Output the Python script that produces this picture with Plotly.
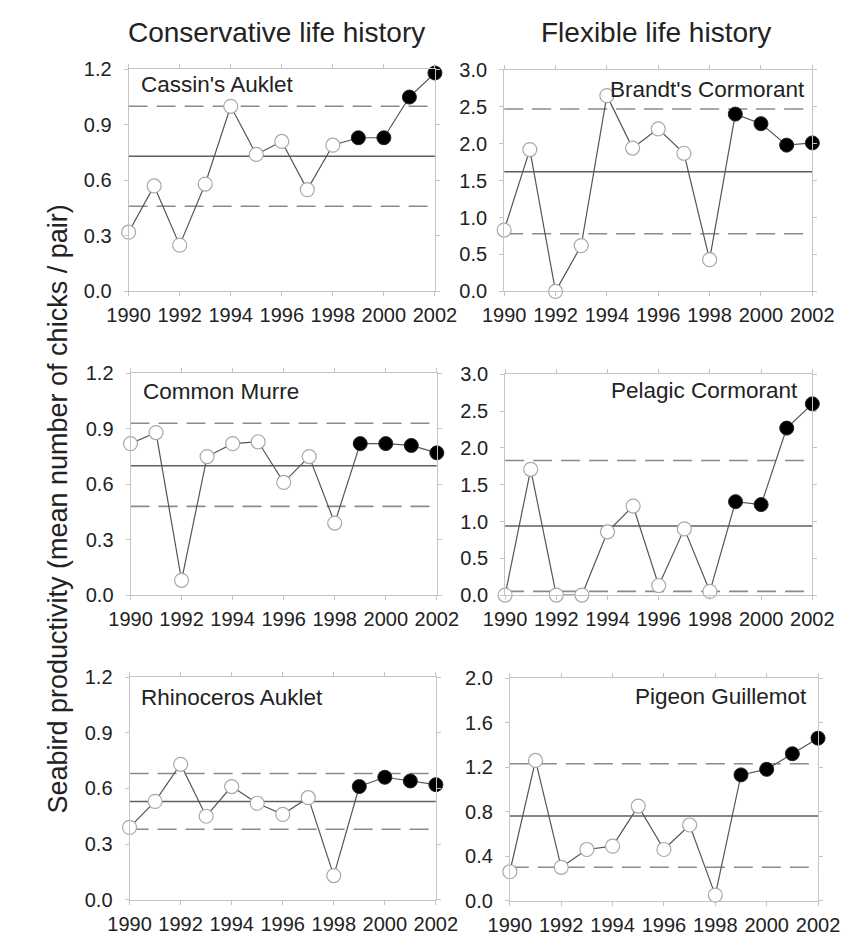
import plotly.graph_objects as go

# ---------------- data ----------------
years = [1990, 1991, 1992, 1993, 1994, 1995, 1996, 1997, 1998, 1999, 2000, 2001, 2002]
first_recent_year = 1999  # filled markers from this year on

cassins_auklet = [0.32, 0.57, 0.25, 0.58, 1.00, 0.74, 0.81, 0.55, 0.79, 0.83, 0.83, 1.05, 1.18]
cassins_stats = [0.73, 1.00, 0.46]          # mean, upper, lower

brandts_cormorant = [0.83, 1.92, 0.00, 0.62, 2.65, 1.94, 2.20, 1.87, 0.43, 2.40, 2.27, 1.98, 2.01]
brandts_stats = [1.62, 2.47, 0.78]

common_murre = [0.82, 0.88, 0.08, 0.75, 0.82, 0.83, 0.61, 0.75, 0.39, 0.82, 0.82, 0.81, 0.77]
murre_stats = [0.70, 0.93, 0.48]

pelagic_cormorant = [0.00, 1.71, 0.00, 0.00, 0.86, 1.21, 0.13, 0.90, 0.05, 1.27, 1.23, 2.27, 2.60]
pelagic_stats = [0.94, 1.83, 0.05]

rhinoceros_auklet = [0.39, 0.53, 0.73, 0.45, 0.61, 0.52, 0.46, 0.55, 0.13, 0.61, 0.66, 0.64, 0.62]
rhino_stats = [0.53, 0.68, 0.38]

pigeon_guillemot = [0.26, 1.26, 0.30, 0.46, 0.49, 0.85, 0.46, 0.68, 0.05, 1.13, 1.18, 1.32, 1.46]
pigeon_stats = [0.76, 1.23, 0.30]

y_ticks_small = [0.0, 0.3, 0.6, 0.9, 1.2]
y_ticks_big = [0.0, 0.5, 1.0, 1.5, 2.0, 2.5, 3.0]
y_ticks_pigeon = [0.0, 0.4, 0.8, 1.2, 1.6, 2.0]
x_ticks = [1990, 1992, 1994, 1996, 1998, 2000, 2002]

col_titles = ["Conservative life history", "Flexible life history"]
y_title = "Seabird productivity (mean number of chicks / pair)"

# ---------------- layout helpers ----------------
PAGE_W, PAGE_H = 859, 940
OFF = 8                      # default body margin of the html page
W, H = PAGE_W - OFF, PAGE_H - OFF
FONT = "Arial, 'Liberation Sans', Helvetica, sans-serif"
TXT = "#222222"


def px(x):
    return (x - OFF) / W


def py(y):
    return 1 - (y - OFF) / H


# name, values, stats, y ticks, frame box (x0, x1, top, bottom), label side, label pad x, label offset y
panels = [
    ("Cassin's Auklet", cassins_auklet, cassins_stats, y_ticks_small, (112, 435, 59.5, 287), "left", 11, 16),
    ("Brandt's Cormorant", brandts_cormorant, brandts_stats, y_ticks_big, (508, 833, 60, 287), "right", 6, 20),
    ("Common Murre", common_murre, murre_stats, y_ticks_small, (114, 437, 371, 598), "left", 11, 18),
    ("Pelagic Cormorant", pelagic_cormorant, pelagic_stats, y_ticks_big, (509, 833, 372, 598), "right", 13, 16),
    ("Rhinoceros Auklet", rhinoceros_auklet, rhino_stats, y_ticks_small, (113, 436, 682, 910), "left", 10, 21),
    ("Pigeon Guillemot", pigeon_guillemot, pigeon_stats, y_ticks_pigeon, (514, 839, 683, 911), "right", 9, 19),
]

fig = go.Figure()
annotations = []
layout_axes = {}

for i, (name, vals, stats, yt, box, side, padx, offy) in enumerate(panels):
    n = i + 1
    xa = "x" if n == 1 else f"x{n}"
    ya = "y" if n == 1 else f"y{n}"
    x0, x1, top, bot = box
    mean, upper, lower = stats

    for v in (upper, lower):
        fig.add_trace(go.Scatter(x=[years[0], years[-1]], y=[v, v], mode="lines",
                                 line=dict(color="#8a8a8a", width=1.6, dash="19px,9px"),
                                 xaxis=xa, yaxis=ya, showlegend=False, hoverinfo="skip",
                                 cliponaxis=False))
    fig.add_trace(go.Scatter(x=[years[0], years[-1]], y=[mean, mean], mode="lines",
                             line=dict(color="#5f5f5f", width=1.5),
                             xaxis=xa, yaxis=ya, showlegend=False, hoverinfo="skip",
                             cliponaxis=False))
    fig.add_trace(go.Scatter(x=years, y=vals, mode="lines",
                             line=dict(color="#555555", width=1.2),
                             xaxis=xa, yaxis=ya, showlegend=False, cliponaxis=False))
    old_x = [y for y in years if y < first_recent_year]
    old_v = [v for y, v in zip(years, vals) if y < first_recent_year]
    new_x = [y for y in years if y >= first_recent_year]
    new_v = [v for y, v in zip(years, vals) if y >= first_recent_year]
    fig.add_trace(go.Scatter(x=old_x, y=old_v, mode="markers",
                             marker=dict(size=14, color="white", line=dict(color="#a8a8a8", width=1.2)),
                             xaxis=xa, yaxis=ya, showlegend=False, cliponaxis=False))
    fig.add_trace(go.Scatter(x=new_x, y=new_v, mode="markers",
                             marker=dict(size=14, color="black", line=dict(color="#222222", width=1)),
                             xaxis=xa, yaxis=ya, showlegend=False, cliponaxis=False))

    axis_common = dict(showline=True, mirror="ticks", linecolor="#c4c4c4", linewidth=1,
                       ticks="outside", ticklen=4, tickcolor="#c4c4c4", tickwidth=1,
                       showgrid=False, zeroline=False,
                       tickfont=dict(family=FONT, size=20, color=TXT))
    layout_axes["xaxis" if n == 1 else f"xaxis{n}"] = dict(
        domain=[px(x0), px(x1)], anchor=ya, range=[years[0], years[-1]],
        tickvals=x_ticks, ticktext=[str(t) for t in x_ticks], ticklabelstandoff=2, **axis_common)
    layout_axes["yaxis" if n == 1 else f"yaxis{n}"] = dict(
        domain=[py(bot), py(top)], anchor=xa, range=[yt[0], yt[-1]],
        tickvals=yt, ticktext=[f"{t:.1f}" for t in yt], ticklabelstandoff=8, **axis_common)

    label_y = 1 - offy / (bot - top)
    if side == "left":
        annotations.append(dict(text=name, xref=f"{xa} domain", yref=f"{ya} domain",
                                x=padx / (x1 - x0), y=label_y, xanchor="left", yanchor="middle",
                                showarrow=False, font=dict(family=FONT, size=22.5, color=TXT)))
    else:
        annotations.append(dict(text=name, xref=f"{xa} domain", yref=f"{ya} domain",
                                x=1 - padx / (x1 - x0), y=label_y, xanchor="right", yanchor="middle",
                                showarrow=False, font=dict(family=FONT, size=22.5, color=TXT)))

annotations.append(dict(text=col_titles[0], xref="paper", yref="paper", x=px(268), y=py(22),
                        xanchor="center", yanchor="middle", showarrow=False,
                        font=dict(family=FONT, size=28, color=TXT)))
annotations.append(dict(text=col_titles[1], xref="paper", yref="paper", x=px(668), y=py(22),
                        xanchor="center", yanchor="middle", showarrow=False,
                        font=dict(family=FONT, size=28, color=TXT)))
annotations.append(dict(text=y_title, xref="paper", yref="paper", x=px(38), y=py(510),
                        xanchor="center", yanchor="middle", textangle=-90, showarrow=False,
                        font=dict(family=FONT, size=27, color=TXT)))

fig.update_layout(width=W, height=H, margin=dict(l=0, r=0, t=0, b=0),
                  paper_bgcolor="white", plot_bgcolor="white",
                  annotations=annotations, showlegend=False, **layout_axes)

fig.write_html("out.html", config={"displayModeBar": False})
